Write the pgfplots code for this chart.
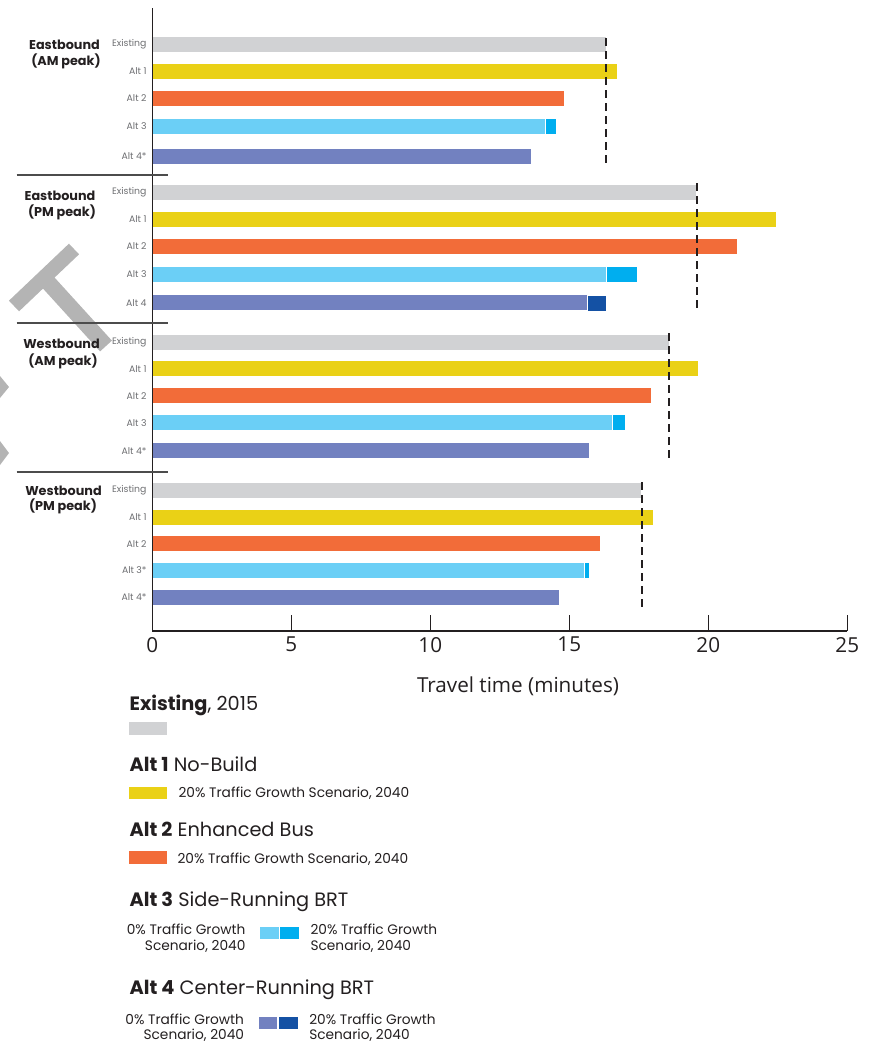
\documentclass[border=0pt]{standalone}
\usepackage{fontspec}
\setmainfont{Poppins}
\newfontfamily\axfont{Open Sans}
\usepackage{pgfplots}
\pgfplotsset{compat=1.18}
\definecolor{cgray}{HTML}{D1D2D4}
\definecolor{cyel}{HTML}{EAD116}
\definecolor{corg}{HTML}{F26C39}
\definecolor{clblue}{HTML}{6BCFF6}
\definecolor{cdblue}{HTML}{00AEEF}
\definecolor{cperi}{HTML}{7281C0}
\definecolor{cnavy}{HTML}{1451A4}
\definecolor{ctext}{HTML}{231F20}
\definecolor{clab}{HTML}{6D6E71}
\definecolor{cwm}{HTML}{B4B4B4}
\begin{document}
\begin{tikzpicture}[x=0.75pt,y=-0.75pt]
\path[use as bounding box] (0,0) rectangle (874,1044);
% faint watermark shape
\draw[cwm, line width=11pt] (14,306) -- (74,249);
\draw[cwm, line width=12pt] (46,280) -- (106,346);
\fill[cwm] (0,376) -- (9,387) -- (0,398) -- cycle;
\fill[cwm] (0,441) -- (9,453) -- (0,465) -- cycle;
\begin{axis}[
  at={(114.225pt,-473.25pt)}, anchor=south west,
  scale only axis, width=521.25pt, height=467pt,
  xmin=0, xmax=25, ymin=-631, ymax=-8.3,
  axis x line*=bottom, axis y line*=left,
  axis on top,
  axis line style={line width=1.2pt, color=ctext},
  xtick={0,5,10,15,20,25},
  ytick={-44.3,-71.3,-98,-126.3,-156.3,-192.5,-219.2,-246,-274.3,-302.8,-342,-368.7,-395.7,-422.7,-450.8,-490.2,-517,-543.7,-570.5,-597.5},
  yticklabels={Existing,Alt 1,Alt 2,Alt 3,Alt 4*,Existing,Alt 1,Alt 2,Alt 3,Alt 4,Existing,Alt 1,Alt 2,Alt 3,Alt 4*,Existing,Alt 1,Alt 2,Alt 3*,Alt 4*},
  tick align=inside,
  major tick length=12pt,
  x tick style={line width=1.2pt, color=ctext},
  y tick style={draw=none},
  /pgf/number format/assume math mode=true,
  xticklabel style={font=\axfont\fontsize{15.5}{16}\selectfont, text=ctext, yshift=-1pt},
  yticklabel style={font=\fontsize{7}{7}\selectfont, text=clab, xshift=11.2pt},
  clip=false,
  xbar, bar width=16, bar shift=0pt,
]
\addplot[fill=cgray, draw=white, line width=0.4pt] coordinates {(16.32,-44.3) (19.56,-192.5) (18.58,-342) (17.60,-490.2)};
\addplot[fill=cyel, draw=white, line width=0.4pt] coordinates {(16.73,-71.3) (22.44,-219.2) (19.63,-368.7) (18.02,-517)};
\addplot[fill=corg, draw=white, line width=0.4pt] coordinates {(14.83,-98) (21.03,-246) (17.94,-395.7) (16.13,-543.7)};
\addplot[fill=cdblue, draw=white, line width=0.4pt] coordinates {(14.53,-126.3) (17.44,-274.3) (17.03,-422.7) (15.73,-570.5)};
\addplot[fill=clblue, draw=white, line width=0.6pt] coordinates {(14.14,-126.3) (16.34,-274.3) (16.55,-422.7) (15.53,-570.5)};
\addplot[fill=cnavy, draw=white, line width=0.4pt] coordinates {(16.33,-302.8)};
\addplot[fill=cperi, draw=white, line width=0.6pt] coordinates {(13.65,-156.3) (15.65,-302.8) (15.72,-450.8) (14.63,-597.5)};
% dashed reference lines (existing travel time)
\addplot[sharp plot, draw=ctext, line width=1.5pt, dash pattern=on 6pt off 3.75pt] coordinates {(16.33,-38) (16.33,-164)};
\addplot[sharp plot, draw=ctext, line width=1.5pt, dash pattern=on 6pt off 3.75pt] coordinates {(19.58,-183) (19.58,-311.7)};
\addplot[sharp plot, draw=ctext, line width=1.5pt, dash pattern=on 6pt off 3.75pt] coordinates {(18.60,-333) (18.60,-461.7)};
\addplot[sharp plot, draw=ctext, line width=1.5pt, dash pattern=on 6pt off 3.75pt] coordinates {(17.63,-482) (17.63,-609.3)};
\end{axis}
% group separators
\foreach \yy in {175,323,472} {\draw[line width=1.1pt, color=black!70] (16.7,\yy) -- (168.3,\yy);}
\draw[line width=2pt, color=ctext] (152,631) -- (168.3,631);
% group labels
\begin{scope}[every node/.style={inner sep=0, anchor=base, text=ctext, font=\bfseries\fontsize{9.6}{10}\selectfont}]
\node at (64.5,50) {Eastbound};
\node at (66,66) {(AM peak)};
\node at (60,200.7) {Eastbound};
\node at (62,216.7) {(PM peak)};
\node at (61.5,349) {Westbound};
\node at (63,365) {(AM peak)};
\node at (63.5,495) {Westbound};
\node at (63,510.5) {(PM peak)};
\end{scope}
% axis title
\node[inner sep=0, anchor=base, text=ctext, font=\axfont\fontsize{15.5}{16}\selectfont] at (518,692) {Travel time (minutes)};
% legend
\begin{scope}[every node/.style={inner sep=0, text=ctext}]
\node[anchor=base west, font=\fontsize{14.5}{15}\selectfont] at (129.3,710.7) {\textbf{Existing}, 2015};
\fill[cgray] (129.3,722.3) rectangle (167.3,734.7);
\node[anchor=base west, font=\fontsize{14.5}{15}\selectfont] at (129.3,771.7) {\textbf{Alt 1} No-Build};
\fill[cyel] (129.3,786.7) rectangle (167.3,799.3);
\node[anchor=base west, font=\fontsize{10.3}{11}\selectfont] at (178.3,797.3) {20\% Traffic Growth Scenario, 2040};
\node[anchor=base west, font=\fontsize{14.5}{15}\selectfont] at (129.3,836.7) {\textbf{Alt 2} Enhanced Bus};
\fill[corg] (129.3,851.3) rectangle (167.3,864);
\node[anchor=base west, font=\fontsize{10.3}{11}\selectfont] at (177.3,863.3) {20\% Traffic Growth Scenario, 2040};
\node[anchor=base west, font=\fontsize{14.5}{15}\selectfont] at (129.3,906) {\textbf{Alt 3} Side-Running BRT};
\node[anchor=base east, font=\fontsize{10.3}{11}\selectfont] at (245.7,934) {0\% Traffic Growth};
\node[anchor=base east, font=\fontsize{10.3}{11}\selectfont] at (245.7,950) {Scenario, 2040};
\fill[clblue] (260.3,926.7) rectangle (279,939.3);
\fill[cdblue] (280.3,926.7) rectangle (299,939.3);
\node[anchor=base west, font=\fontsize{10.3}{11}\selectfont] at (310.3,934) {20\% Traffic Growth};
\node[anchor=base west, font=\fontsize{10.3}{11}\selectfont] at (310.3,950) {Scenario, 2040};
\node[anchor=base west, font=\fontsize{14.5}{15}\selectfont] at (129.3,994) {\textbf{Alt 4} Center-Running BRT};
\node[anchor=base east, font=\fontsize{10.3}{11}\selectfont] at (244.3,1024) {0\% Traffic Growth};
\node[anchor=base east, font=\fontsize{10.3}{11}\selectfont] at (244.3,1039.3) {Scenario, 2040};
\fill[cperi] (259,1016.7) rectangle (277,1029.3);
\fill[cnavy] (278.7,1016.7) rectangle (297.7,1029.3);
\node[anchor=base west, font=\fontsize{10.3}{11}\selectfont] at (309,1024) {20\% Traffic Growth};
\node[anchor=base west, font=\fontsize{10.3}{11}\selectfont] at (309,1039.3) {Scenario, 2040};
\end{scope}
\end{tikzpicture}
\end{document}
